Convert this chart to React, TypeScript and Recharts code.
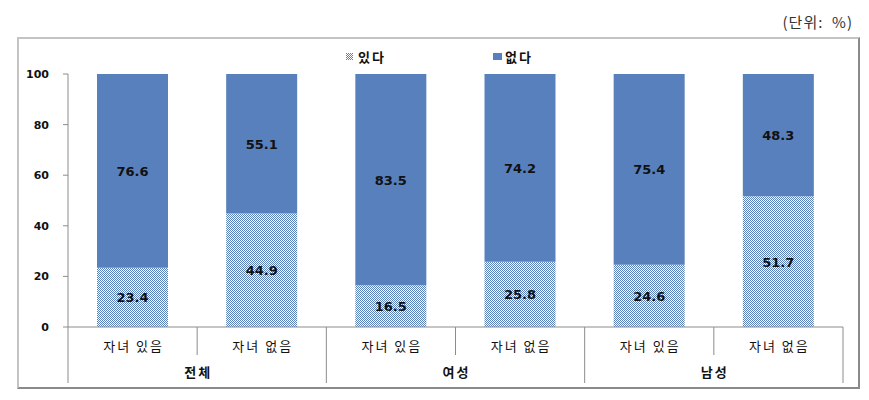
import React from "react";
import { BarChart, Bar, XAxis, YAxis, LabelList } from "recharts";

const categories = ["자녀 있음", "자녀 없음", "자녀 있음", "자녀 없음", "자녀 있음", "자녀 없음"];
const groups = ["전체", "전체", "여성", "여성", "남성", "남성"];
const yesValues = [23.4, 44.9, 16.5, 25.8, 24.6, 51.7];
const noValues = [76.6, 55.1, 83.5, 74.2, 75.4, 48.3];
const yTicks = [0, 20, 40, 60, 80, 100];
const seriesNames = ["있다", "없다"];

const data = categories.map((c, i) => ({
  key: `${groups[i]}-${c}-${i}`,
  yes: yesValues[i],
  no: noValues[i],
}));

const W = 869;
const H = 400;
const MARGIN = { top: 74, right: 26, left: 0, bottom: 0 };
const Y_WIDTH = 68;
const PLOT_W = W - MARGIN.left - MARGIN.right - Y_WIDTH;
const BAND = PLOT_W / categories.length;

const KR = "'Noto Sans CJK KR', 'Noto Sans', sans-serif";
const NUM = "'DejaVu Sans', Verdana, sans-serif";
const BLUE = "#5880bd";
const LINE = "#8c8c8c";

const XTick = (props: any) => {
  const { x, y, index, payload } = props;
  const half = (payload && payload.offset) || BAND / 2;
  const left = x - half;
  const right = x + half;
  const isGroupStart = index % 2 === 0;
  const isLast = index === categories.length - 1;
  return (
    <g>
      <line x1={left} x2={left} y1={y} y2={y + (isGroupStart ? 56 : 28)} stroke={LINE} strokeWidth={1} />
      {isLast && <line x1={right} x2={right} y1={y} y2={y + 56} stroke={LINE} strokeWidth={1} />}
      <text x={x + 1} y={y + 24} textAnchor="middle" fontFamily={KR} fontSize={13} letterSpacing={2} fill="#111">
        {categories[index]}
      </text>
      {isGroupStart && (
        <text x={right + 1} y={y + 50} textAnchor="middle" fontFamily={KR} fontSize={13} letterSpacing={2} fontWeight="bold" fill="#111">
          {groups[index]}
        </text>
      )}
    </g>
  );
};

const DataLabel = (props: any) => {
  const { x, y, width, height, value } = props;
  return (
    <text x={x + width / 2} y={y + height / 2} dy={5} textAnchor="middle" fontFamily={NUM} fontWeight="bold" fontSize={13} fill="#111">
      {Number(value).toFixed(1)}
    </text>
  );
};

export default function App() {
  return (
    <div style={{ position: "absolute", left: 0, top: 0, width: W, height: H, background: "#fff" }}>
      <div
        style={{
          position: "absolute",
          left: 17,
          top: 37,
          width: 839,
          height: 348,
          borderTop: "2px solid #c4c4c4",
          borderLeft: "2px solid #c4c4c4",
          borderRight: "2px solid #8a8a8a",
          borderBottom: "2px solid #8a8a8a",
        }}
      />
      <div
        style={{
          position: "absolute",
          right: 16,
          top: 11,
          fontFamily: KR,
          fontSize: 15,
          letterSpacing: 1,
          whiteSpace: "pre",
          color: "#333",
        }}
      >
        (단위:  %)
      </div>
      <div style={{ position: "absolute", left: 346, top: 47, display: "flex", alignItems: "center", fontFamily: KR, fontSize: 13, letterSpacing: 2, fontWeight: "bold", color: "#111" }}>
        <svg width={7} height={7} style={{ marginRight: 5 }}>
          <defs>
            <pattern id="hatchLegend" width={2} height={2} patternUnits="userSpaceOnUse">
              <rect width={2} height={2} fill="#fff" />
              <rect x={0} y={0} width={1} height={1} fill={BLUE} />
              <rect x={1} y={1} width={1} height={1} fill={BLUE} />
            </pattern>
          </defs>
          <rect width={7} height={7} fill="url(#hatchLegend)" />
        </svg>
        <span>{seriesNames[0]}</span>
        <svg width={9} height={7} style={{ marginLeft: 107, marginRight: 3 }}>
          <rect width={9} height={7} fill={BLUE} />
        </svg>
        <span>{seriesNames[1]}</span>
      </div>
      <div style={{ position: "absolute", left: 0, top: 0 }}>
        <BarChart width={W} height={H} data={data} margin={MARGIN} barSize={71}>
          <defs>
            <pattern id="hatch" width={2} height={2} patternUnits="userSpaceOnUse">
              <rect width={2} height={2} fill="#fff" />
              <rect x={0} y={0} width={1} height={1} fill={BLUE} />
              <rect x={1} y={1} width={1} height={1} fill={BLUE} />
            </pattern>
          </defs>
          <XAxis
            dataKey="key"
            tick={<XTick />}
            tickLine={false}
            tickSize={0}
            tickMargin={0}
            height={73}
            axisLine={{ stroke: LINE }}
            interval={0}
          />
          <YAxis
            domain={[0, 100]}
            ticks={yTicks}
            width={Y_WIDTH}
            tickSize={5}
            tickMargin={14}
            axisLine={{ stroke: LINE }}
            tickLine={{ stroke: LINE }}
            tick={{ fontFamily: NUM, fontSize: 11, fontWeight: "bold", fill: "#111" }}
          />
          <Bar dataKey="yes" name={seriesNames[0]} stackId="a" fill="url(#hatch)" isAnimationActive={false}>
            <LabelList dataKey="yes" content={<DataLabel />} />
          </Bar>
          <Bar dataKey="no" name={seriesNames[1]} stackId="a" fill={BLUE} isAnimationActive={false}>
            <LabelList dataKey="no" content={<DataLabel />} />
          </Bar>
        </BarChart>
      </div>
    </div>
  );
}
